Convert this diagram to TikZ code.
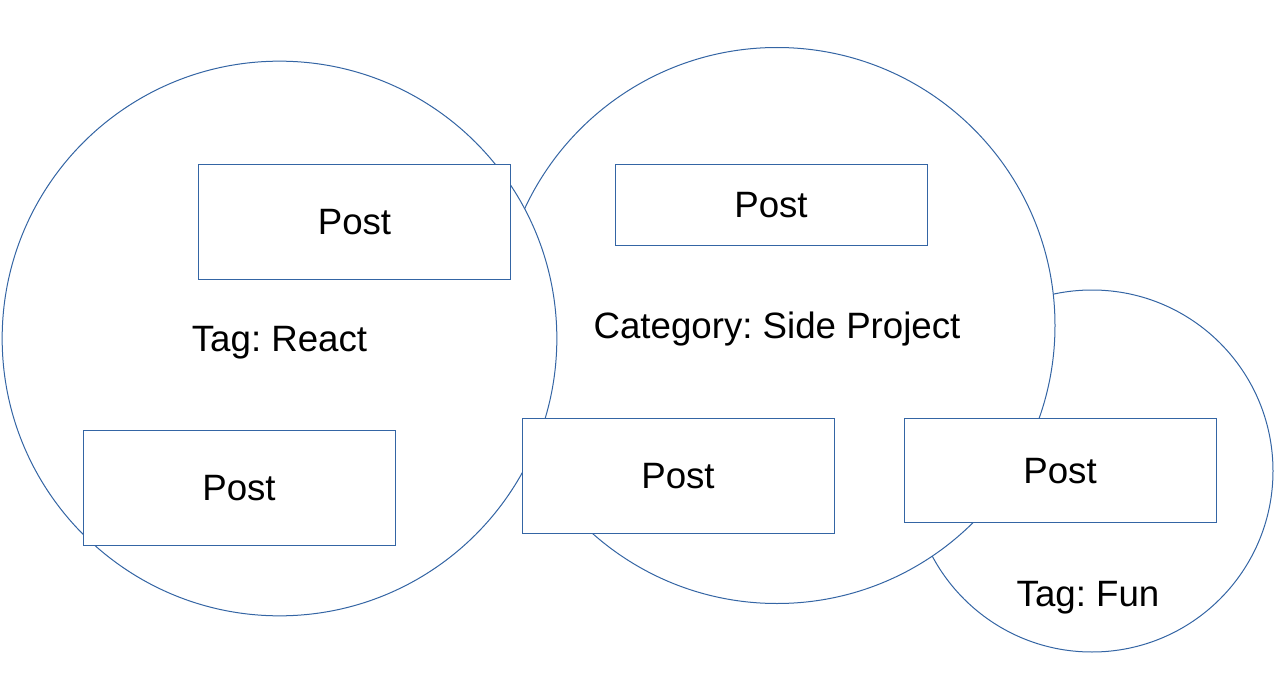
\documentclass[tikz,border=0pt]{standalone}
\usepackage{fontspec}
\setmainfont{Liberation Sans}
\frenchspacing
\definecolor{setblue}{HTML}{3465A4}

\begin{document}
\begin{tikzpicture}
  [x=0.75pt,y=-0.75pt,line width=0.75pt,
   every node/.style={font=\fontsize{27.5}{32}\selectfont,text height=19.7pt,text depth=0pt,inner sep=0pt},
   group/.style={circle,draw=setblue,fill=white},
   post/.style={rectangle,draw=setblue,fill=white,minimum width=234pt}]
  \useasboundingbox (0,0) rectangle (1279,692);

  % the three sets, back to front
  \node[group,minimum size=271.5pt] (fun) at (1092,471) {};
  \node[group,minimum size=417pt] (side) at (777,325.5) {Category: Side Project};
  \node[group,minimum size=416pt] (react) at (279.5,338.5) {Tag: React};
  \node (funlbl) at (1088,593) {Tag: Fun};

  % posts
  \node[post,minimum height=86.25pt] (p1) at (354.5,221.5) {Post};
  \node[post,minimum height=60.75pt] (p2) at (771,204.5) {Post};
  \node[post,minimum height=86.25pt] (p3) at (239,487.5) {Post};
  \node[post,minimum height=86.25pt] (p4) at (678,475.5) {Post};
  \node[post,minimum height=78pt] (p5) at (1060,470) {Post};
\end{tikzpicture}
\end{document}
